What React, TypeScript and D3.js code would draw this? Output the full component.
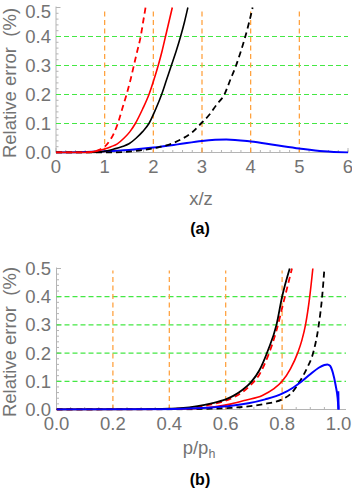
import React from "react";
import * as d3 from "d3";

// ---- panel (a): relative error vs x/z ----
const aRedDashX = [0, 0.6, 0.8, 0.9, 1.0, 1.1, 1.2, 1.27, 1.36, 1.45, 1.53, 1.6, 1.67, 1.74, 1.79, 1.84];
const aRedDashY = [0, 0, 0.004, 0.01, 0.02, 0.04, 0.07, 0.1, 0.15, 0.2, 0.25, 0.3, 0.35, 0.4, 0.45, 0.5];
const aRedX = [0, 0.6, 0.8, 1.0, 1.13, 1.26, 1.4, 1.52, 1.63, 1.78, 1.91, 2.01, 2.1, 2.18, 2.25, 2.32, 2.39];
const aRedY = [0, 0, 0.004, 0.012, 0.02, 0.03, 0.05, 0.072, 0.1, 0.15, 0.2, 0.25, 0.3, 0.35, 0.4, 0.45, 0.5];
const aBlackX = [0, 0.7, 0.9, 1.05, 1.19, 1.35, 1.5, 1.65, 1.78, 1.91, 2.05, 2.17, 2.27, 2.37, 2.47, 2.56, 2.64, 2.71];
const aBlackY = [0, 0, 0.002, 0.006, 0.012, 0.02, 0.03, 0.05, 0.072, 0.1, 0.15, 0.2, 0.25, 0.3, 0.35, 0.4, 0.45, 0.5];
const aBlackDashX = [0, 1.2, 1.5, 1.8, 2.1, 2.4, 2.6, 2.8, 2.98, 3.15, 3.3, 3.46, 3.58, 3.7, 3.8, 3.89, 3.97, 4.04];
const aBlackDashY = [0, 0, 0.003, 0.009, 0.018, 0.032, 0.048, 0.07, 0.1, 0.13, 0.165, 0.2, 0.25, 0.3, 0.35, 0.4, 0.45, 0.5];
const aBlueX = [0, 0.5, 1, 1.5, 2, 2.5, 3, 3.5, 4, 4.5, 5, 5.5, 6];
const aBlueY = [0, 0.001, 0.004, 0.009, 0.017, 0.028, 0.04, 0.045, 0.038, 0.026, 0.014, 0.004, 0];

const aXTicks = [0, 1, 2, 3, 4, 5, 6];
const aVLines = [1, 2, 3, 4, 5];

// ---- panel (b): relative error vs p/ph ----
const bBlackX = [0, 0.3, 0.4, 0.44, 0.5, 0.55, 0.6, 0.63, 0.66, 0.69, 0.72, 0.75, 0.78, 0.8, 0.827];
const bBlackY = [0, 0.0005, 0.003, 0.005, 0.012, 0.022, 0.036, 0.05, 0.07, 0.097, 0.14, 0.21, 0.3, 0.4, 0.5];
const bRedDashX = [0, 0.3, 0.4, 0.45, 0.5, 0.55, 0.6, 0.63, 0.66, 0.69, 0.72, 0.75, 0.78, 0.805, 0.835];
const bRedDashY = [0, 0.0003, 0.002, 0.004, 0.009, 0.018, 0.031, 0.044, 0.062, 0.088, 0.125, 0.19, 0.28, 0.38, 0.5];
const bRedX = [0, 0.4, 0.5, 0.56, 0.62, 0.67, 0.73, 0.77, 0.8, 0.83, 0.855, 0.87, 0.883, 0.898, 0.909];
const bRedY = [0, 0.001, 0.004, 0.01, 0.02, 0.033, 0.05, 0.073, 0.1, 0.145, 0.2, 0.245, 0.3, 0.4, 0.5];
const bBlackDashX = [0, 0.45, 0.55, 0.62, 0.68, 0.74, 0.8, 0.83, 0.863, 0.89, 0.91, 0.93, 0.942, 0.95];
const bBlackDashY = [0, 0.0005, 0.003, 0.006, 0.011, 0.02, 0.036, 0.055, 0.1, 0.15, 0.2, 0.3, 0.4, 0.5];
const bBlueX = [0, 0.3, 0.45, 0.55, 0.62, 0.68, 0.74, 0.8, 0.84, 0.87, 0.9, 0.93, 0.95, 0.96, 0.97, 0.98, 0.99, 0.997, 1.0];
const bBlueY = [0, 0.0005, 0.003, 0.007, 0.013, 0.022, 0.036, 0.056, 0.078, 0.1, 0.125, 0.148, 0.158, 0.16, 0.155, 0.13, 0.085, 0.04, 0];
// little vertical spike at the right end of the blue curve
const bBlueTailX = [0.999, 1.0];
const bBlueTailY = [0.065, 0];

const bXTicks = [0, 0.2, 0.4, 0.6, 0.8, 1.0];
const bVLines = [0.2, 0.4, 0.6, 0.8];

const yTicks = [0, 0.1, 0.2, 0.3, 0.4, 0.5];
const yGrid = [0.1, 0.2, 0.3, 0.4];

const FONT = "'Liberation Sans', Arial, sans-serif";
const GREY = "#737373";
const AXIS = "#b4b4b4";

interface Series {
  x: number[];
  y: number[];
  color: string;
  dashed?: boolean;
  width: number;
}

interface PanelProps {
  id: string;
  x: d3.ScaleLinear<number, number>;
  y: d3.ScaleLinear<number, number>;
  right: number;
  xTicks: number[];
  xMinorStep: number;
  xFmt: (v: number) => string;
  vLines: number[];
  series: Series[];
  xLabel: React.ReactNode;
  caption: string;
  captionY: number;
}

const Panel = ({ id, x, y, right, xTicks, xMinorStep, xFmt, vLines, series, xLabel, caption, captionY }: PanelProps) => {
  const [x0, x1] = x.domain();
  const x0px = x(x0);
  const y0px = y(0);
  const ytop = y(0.5);
  const xMinor = d3.range(x0, x1 + 1e-9, xMinorStep);
  const yMinor = d3.range(0, 0.5 + 1e-9, 0.02);
  const line = d3
    .line<[number, number]>()
    .x((d) => x(d[0]))
    .y((d) => y(d[1]))
    .curve(d3.curveMonotoneX);

  return (
    <g fontFamily={FONT}>
      <defs>
        <clipPath id={id}>
          <rect x={x0px} y={ytop - 1} width={right - x0px + 2} height={y0px - ytop + 2} />
        </clipPath>
      </defs>

      {/* axes */}
      <line x1={x0px} x2={right} y1={y0px} y2={y0px} stroke={AXIS} strokeWidth={1} />
      <line x1={x0px} x2={x0px} y1={y0px} y2={ytop - 1} stroke={AXIS} strokeWidth={1} />
      {xMinor.map((v, i) => (
        <line key={"xm" + i} x1={x(v)} x2={x(v)} y1={y0px} y2={y0px - 2.5} stroke={AXIS} />
      ))}
      {xTicks.map((v) => (
        <line key={"xt" + v} x1={x(v)} x2={x(v)} y1={y0px} y2={y0px - 4.5} stroke={AXIS} />
      ))}
      {yMinor.map((v, i) => (
        <line key={"ym" + i} x1={x0px} x2={x0px + 2.5} y1={y(v)} y2={y(v)} stroke={AXIS} />
      ))}
      {yTicks.map((v) => (
        <line key={"yt" + v} x1={x0px} x2={x0px + 4.5} y1={y(v)} y2={y(v)} stroke={AXIS} />
      ))}

      {/* grid */}
      {yGrid.map((v) => (
        <line key={"g" + v} x1={x0px} x2={right} y1={y(v)} y2={y(v)} stroke="#44e844" strokeWidth={1.2} strokeDasharray="5,3" />
      ))}
      {vLines.map((v) => (
        <line key={"v" + v} x1={x(v)} x2={x(v)} y1={y0px} y2={ytop + 2} stroke="#ff9c33" strokeWidth={1.2} strokeDasharray="5,3.5" />
      ))}

      {/* curves */}
      <g clipPath={`url(#${id})`}>
        {series.map((s, i) => (
          <path
            key={i}
            d={line(s.x.map((v, j) => [v, s.y[j]] as [number, number])) || ""}
            fill="none"
            stroke={s.color}
            strokeWidth={s.width}
            strokeDasharray={s.dashed ? "6,4" : undefined}
          />
        ))}
      </g>

      {/* tick labels */}
      {xTicks.map((v) => (
        <text key={"xl" + v} x={x(v)} y={y0px + 20} textAnchor="middle" fontSize={18.5} fill={GREY}>
          {xFmt(v)}
        </text>
      ))}
      {yTicks.map((v) => (
        <text key={"yl" + v} x={51} y={Math.max(y(v) + 6.5, 18)} textAnchor="end" fontSize={18.5} fill={GREY}>
          {v.toFixed(1)}
        </text>
      ))}
      <text
        transform={`translate(16,${(y0px + ytop) / 2 + 3}) rotate(-90)`}
        textAnchor="middle"
        fontSize={18.5}
        fill={GREY}
      >
        {"Relative error\u00a0 (%)"}
      </text>
      {xLabel}
      <text x={200} y={captionY} textAnchor="middle" fontSize={16} fontWeight="bold" fill="#000">
        {caption}
      </text>
    </g>
  );
};

export default function App() {
  const xa = d3.scaleLinear().domain([0, 6]).range([56, 348]);
  const ya = d3.scaleLinear().domain([0, 0.5]).range([152.5, 7.5]);
  const xb = d3.scaleLinear().domain([0, 1]).range([56.5, 338.5]);
  const yb = d3.scaleLinear().domain([0, 0.5]).range([409.5, 268.5]);

  const seriesA: Series[] = [
    { x: aBlueX, y: aBlueY, color: "#0000ff", width: 2 },
    { x: aBlackDashX, y: aBlackDashY, color: "#000", dashed: true, width: 1.8 },
    { x: aBlackX, y: aBlackY, color: "#000", width: 1.6 },
    { x: aRedX, y: aRedY, color: "#ff0000", width: 1.6 },
    { x: aRedDashX, y: aRedDashY, color: "#ff0000", dashed: true, width: 1.8 },
  ];
  const seriesB: Series[] = [
    { x: bBlackDashX, y: bBlackDashY, color: "#000", dashed: true, width: 1.8 },
    { x: bRedX, y: bRedY, color: "#ff0000", width: 1.6 },
    { x: bRedDashX, y: bRedDashY, color: "#ff0000", dashed: true, width: 1.8 },
    { x: bBlackX, y: bBlackY, color: "#000", width: 1.8 },
    { x: bBlueX, y: bBlueY, color: "#0000ff", width: 2 },
    { x: bBlueTailX, y: bBlueTailY, color: "#0000ff", width: 2.2 },
  ];

  return (
    <svg width={352} height={500} style={{ position: "absolute", left: 0, top: 0, background: "#fff" }}>
      <Panel
        id="clipA"
        x={xa}
        y={ya}
        right={348}
        xTicks={aXTicks}
        xMinorStep={0.2}
        xFmt={(v) => String(v)}
        vLines={aVLines}
        series={seriesA}
        caption="(a)"
        captionY={234}
        xLabel={
          <text x={201} y={205} textAnchor="middle" fontSize={18.5} fill={GREY} fontFamily={FONT}>
            x/z
          </text>
        }
      />
      <Panel
        id="clipB"
        x={xb}
        y={yb}
        right={346}
        xTicks={bXTicks}
        xMinorStep={0.05}
        xFmt={(v) => v.toFixed(1)}
        vLines={bVLines}
        series={seriesB}
        caption="(b)"
        captionY={485}
        xLabel={
          <text x={199} y={454} textAnchor="middle" fontSize={18.5} fill={GREY} fontFamily={FONT}>
            p/p<tspan fontSize={12.5} dy={4}>h</tspan>
          </text>
        }
      />
    </svg>
  );
}
